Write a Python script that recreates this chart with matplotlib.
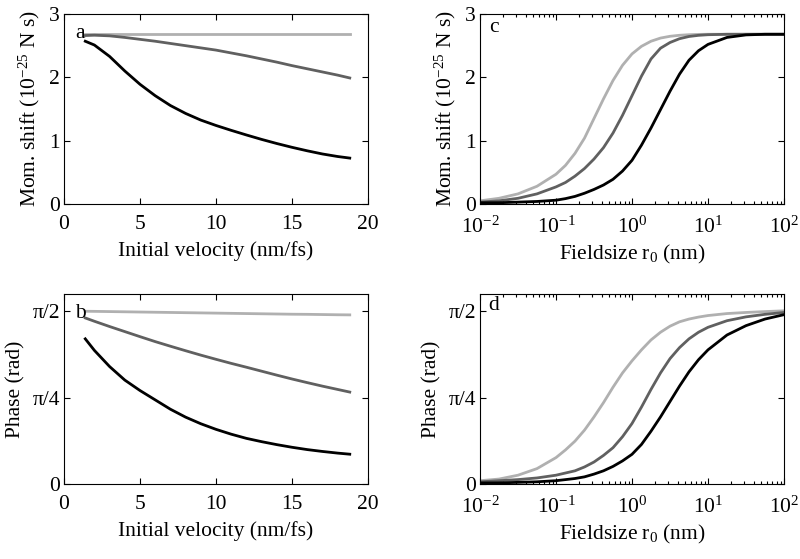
import numpy as np
import matplotlib
matplotlib.use("Agg")
import matplotlib.pyplot as plt
from matplotlib.ticker import LogLocator, NullFormatter

plt.rcParams['font.family'] = ['Liberation Serif', 'DejaVu Serif']
plt.rcParams['mathtext.fontset'] = 'custom'
plt.rcParams['mathtext.rm'] = 'Liberation Serif'
plt.rcParams['mathtext.it'] = 'Liberation Serif:italic'
plt.rcParams['mathtext.bf'] = 'Liberation Serif:bold'
plt.rcParams['axes.unicode_minus'] = True

# ---------------- data ----------------
# panels a, b : initial velocity (nm/fs)
velocity = [1.4, 2, 3, 4, 5, 6, 7, 8, 9, 10, 11, 12, 13, 14, 15, 16, 17, 18, 18.8]

mom_light_v = [2.68, 2.68, 2.68, 2.68, 2.68, 2.68, 2.68, 2.68, 2.68, 2.68,
               2.68, 2.68, 2.68, 2.68, 2.68, 2.68, 2.68, 2.68, 2.68]
mom_mid_v = [2.66, 2.665, 2.655, 2.63, 2.60, 2.57, 2.535, 2.50, 2.465, 2.43,
             2.385, 2.34, 2.29, 2.24, 2.185, 2.135, 2.085, 2.035, 1.99]
mom_dark_v = [2.57, 2.51, 2.33, 2.10, 1.89, 1.71, 1.555, 1.43, 1.325, 1.24,
              1.163, 1.09, 1.02, 0.955, 0.895, 0.84, 0.79, 0.75, 0.725]

phase_light_v = [1.571, 1.570, 1.568, 1.566, 1.564, 1.562, 1.560, 1.558, 1.556, 1.554,
                 1.552, 1.550, 1.548, 1.546, 1.544, 1.543, 1.541, 1.539, 1.538]
phase_mid_v = [1.51, 1.48, 1.432, 1.386, 1.34, 1.295, 1.253, 1.212, 1.172, 1.134,
               1.097, 1.062, 1.026, 0.99, 0.955, 0.922, 0.89, 0.86, 0.836]
phase_dark_v = [1.32, 1.215, 1.068, 0.945, 0.85, 0.765, 0.68, 0.608, 0.548, 0.497,
                0.453, 0.415, 0.385, 0.358, 0.334, 0.313, 0.296, 0.281, 0.271]

# panels c, d : field size r0 (nm), given as decade exponents
r0_exponent = [-2, -1.75, -1.5, -1.25, -1, -0.875, -0.75, -0.625, -0.5, -0.375,
               -0.25, -0.125, 0, 0.125, 0.25, 0.375, 0.5, 0.625, 0.75, 0.875,
               1, 1.25, 1.5, 1.75, 2]

mom_light_r = [0.05, 0.09, 0.16, 0.28, 0.47, 0.61, 0.80, 1.04, 1.35, 1.66,
               1.95, 2.19, 2.37, 2.49, 2.57, 2.62, 2.648, 2.664, 2.673, 2.678,
               2.68, 2.68, 2.68, 2.68, 2.68]
mom_mid_r = [0.03, 0.05, 0.09, 0.16, 0.27, 0.34, 0.44, 0.56, 0.71, 0.89,
             1.12, 1.40, 1.71, 2.02, 2.29, 2.46, 2.55, 2.61, 2.645, 2.663,
             2.673, 2.68, 2.68, 2.68, 2.68]
mom_dark_r = [0.02, 0.02, 0.03, 0.04, 0.06, 0.085, 0.12, 0.17, 0.23, 0.30,
              0.39, 0.52, 0.69, 0.93, 1.20, 1.49, 1.78, 2.05, 2.27, 2.42,
              2.52, 2.63, 2.67, 2.68, 2.68]

phase_light_r = [0.03, 0.045, 0.08, 0.14, 0.24, 0.31, 0.39, 0.49, 0.61, 0.74,
                 0.88, 1.01, 1.12, 1.22, 1.31, 1.38, 1.435, 1.475, 1.50, 1.518,
                 1.532, 1.55, 1.56, 1.568, 1.575]
phase_mid_r = [0.02, 0.03, 0.04, 0.055, 0.08, 0.10, 0.12, 0.155, 0.20, 0.26,
               0.33, 0.43, 0.55, 0.70, 0.86, 1.01, 1.14, 1.24, 1.32, 1.38,
               1.425, 1.485, 1.52, 1.543, 1.56]
phase_dark_r = [0.01, 0.01, 0.015, 0.02, 0.03, 0.04, 0.05, 0.065, 0.09, 0.12,
                0.16, 0.21, 0.27, 0.36, 0.48, 0.61, 0.75, 0.89, 1.02, 1.13,
                1.22, 1.355, 1.44, 1.50, 1.54]

r0 = 10.0 ** np.array(r0_exponent)

colors = ['#b0b0b0', '#606060', '#000000']
panel_labels = ['a', 'b', 'c', 'd']
mom_label = 'Mom. shift (10$^{-25}$ N s)'
phase_label = 'Phase (rad)'
vel_label = 'Initial velocity (nm/fs)'
r0_label = 'Fieldsize r$_0$ (nm)'
phase_ticks = [0, np.pi / 4, np.pi / 2]
phase_ticklabels = ['0', 'π/4', 'π/2']

# ---------------- figure ----------------
fig = plt.figure(figsize=(8.0, 5.59), dpi=100)
W, H = 800, 559


def add_axes(l, t, r, b):
    return fig.add_axes([l / W, 1 - b / H, (r - l) / W, (b - t) / H])


ax_a = add_axes(64, 14, 368, 204)
ax_c = add_axes(480, 14, 784, 204)
ax_b = add_axes(64, 294, 368, 484)
ax_d = add_axes(480, 294, 784, 484)

FS = 15.5
lw = 2.0


def style(ax, xpad):
    ax.tick_params(which='both', direction='in', top=True, right=True,
                   labelsize=FS, width=0.8)
    ax.tick_params(which='major', length=4)
    ax.tick_params(which='minor', length=2.2)
    ax.tick_params(axis='x', pad=xpad)
    ax.tick_params(axis='y', pad=3)
    for s in ax.spines.values():
        s.set_linewidth(0.8)


# panel a
for y, c in zip([mom_light_v, mom_mid_v, mom_dark_v], colors):
    ax_a.plot(velocity, y, color=c, lw=lw)
ax_a.set_xlim(0, 20)
ax_a.set_ylim(0, 3)
ax_a.set_xticks([0, 5, 10, 15, 20])
ax_a.set_yticks([0, 1, 2, 3])
ax_a.set_xlabel(vel_label, fontsize=FS, labelpad=5)
ax_a.set_ylabel(mom_label, fontsize=FS, labelpad=5)
style(ax_a, 8)
ax_a.text(0.038, 0.9, panel_labels[0], transform=ax_a.transAxes,
          ha='left', va='center', fontsize=FS)

# panel b
for y, c in zip([phase_light_v, phase_mid_v, phase_dark_v], colors):
    ax_b.plot(velocity, y, color=c, lw=lw)
ax_b.set_xlim(0, 20)
ax_b.set_ylim(0, 1.1 * np.pi / 2)
ax_b.set_xticks([0, 5, 10, 15, 20])
ax_b.set_yticks(phase_ticks)
ax_b.set_yticklabels(phase_ticklabels)
ax_b.set_xlabel(vel_label, fontsize=FS, labelpad=5)
ax_b.set_ylabel(phase_label, fontsize=FS, labelpad=5)
style(ax_b, 8)
ax_b.text(0.036, 0.9, panel_labels[1], transform=ax_b.transAxes,
          ha='left', va='center', fontsize=FS)

# panel c
for y, c in zip([mom_light_r, mom_mid_r, mom_dark_r], colors):
    ax_c.plot(r0, y, color=c, lw=lw)
ax_c.set_xscale('log')
ax_c.set_xlim(1e-2, 1e2)
ax_c.set_ylim(0, 3)
ax_c.set_yticks([0, 1, 2, 3])
ax_c.xaxis.set_major_locator(LogLocator(base=10, numticks=10))
ax_c.xaxis.set_minor_locator(LogLocator(base=10, subs=np.arange(2, 10), numticks=20))
ax_c.xaxis.set_minor_formatter(NullFormatter())
ax_c.set_xlabel(r0_label, fontsize=FS, labelpad=4)
ax_c.set_ylabel(mom_label, fontsize=FS, labelpad=5)
style(ax_c, 9)
ax_c.text(0.03, 0.93, panel_labels[2], transform=ax_c.transAxes,
          ha='left', va='center', fontsize=FS)

# panel d
for y, c in zip([phase_light_r, phase_mid_r, phase_dark_r], colors):
    ax_d.plot(r0, y, color=c, lw=lw)
ax_d.set_xscale('log')
ax_d.set_xlim(1e-2, 1e2)
ax_d.set_ylim(0, 1.1 * np.pi / 2)
ax_d.set_yticks(phase_ticks)
ax_d.set_yticklabels(phase_ticklabels)
ax_d.xaxis.set_major_locator(LogLocator(base=10, numticks=10))
ax_d.xaxis.set_minor_locator(LogLocator(base=10, subs=np.arange(2, 10), numticks=20))
ax_d.xaxis.set_minor_formatter(NullFormatter())
ax_d.set_xlabel(r0_label, fontsize=FS, labelpad=4)
ax_d.set_ylabel(phase_label, fontsize=FS, labelpad=5)
style(ax_d, 9)
ax_d.text(0.027, 0.94, panel_labels[3], transform=ax_d.transAxes,
          ha='left', va='center', fontsize=FS)

fig.savefig('out.png', dpi=100)
